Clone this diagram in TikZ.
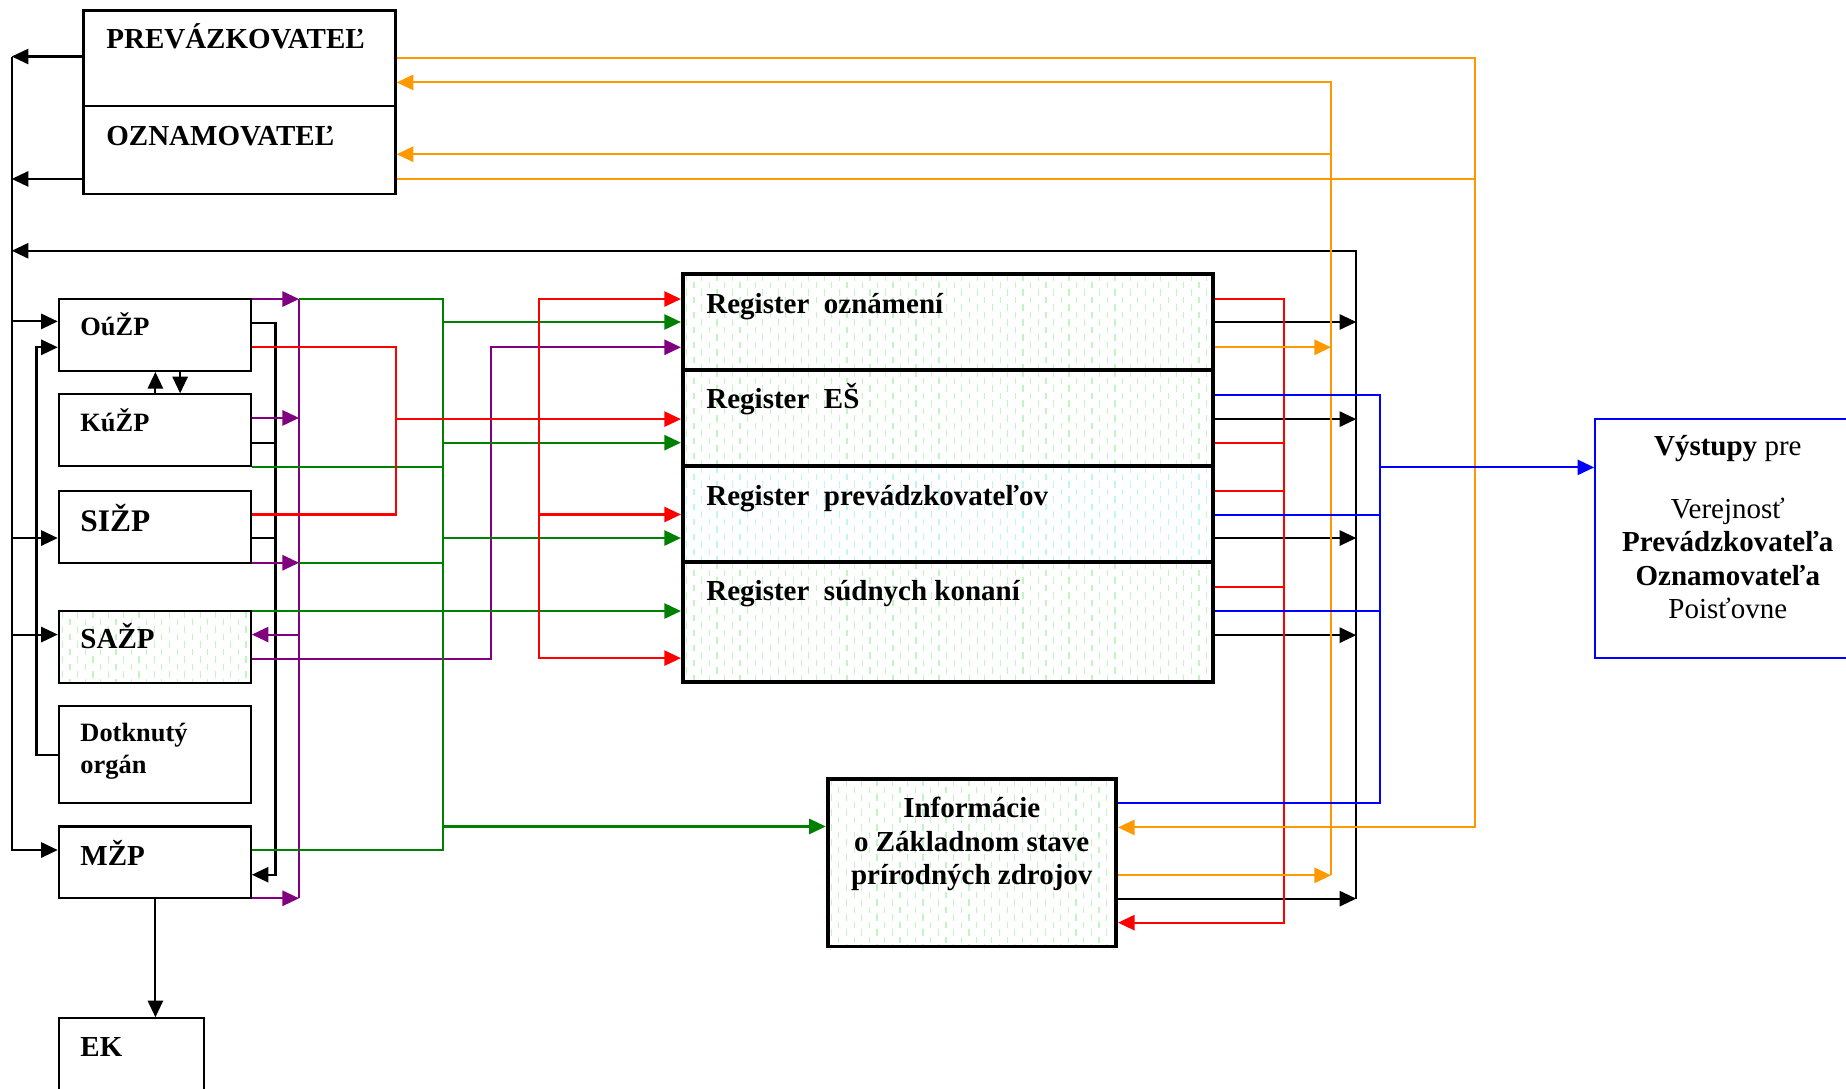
\documentclass[tikz,border=0pt]{standalone}
\usepackage{fontspec}
\setmainfont{Liberation Serif}
\usetikzlibrary{arrows.meta,calc,fit}
\definecolor{cOr}{RGB}{255,153,0}
\definecolor{cRed}{RGB}{255,0,0}
\definecolor{cGreen}{RGB}{0,128,0}
\definecolor{cPurp}{RGB}{128,0,128}
\definecolor{cBlue}{RGB}{0,0,255}
\definecolor{hatchG}{RGB}{195,245,195}
\definecolor{hatchC}{RGB}{190,245,245}
\newcommand{\myhatch}[5]{%
  \begin{scope}
    \clip (#1,#2) rectangle (#3,#4);
    \pgfmathtruncatemacro{\hn}{(#3-#1)/6.5}
    \foreach \k in {0,...,\hn}{
      \pgfmathsetmacro{\hx}{#1+3+6.5*\k}
      \pgfmathsetmacro{\hph}{mod(\k,2)*3.75}
      \draw[#5, line width=0.6pt, dash pattern=on 3.3pt off 4.2pt, dash phase=\hph pt] (\hx,#2) -- (\hx,#4);
    }
  \end{scope}}
\begin{document}
\begin{tikzpicture}[x=0.58865pt,y=-0.58865pt,
  box/.style={draw, line width=1.1pt, inner sep=0pt},
  tbox/.style={draw, line width=1.9pt, inner sep=0pt},
  con/.style={line width=1.05pt},
  >={Triangle[length=8.3pt,width=7.6pt]},
  lbl/.style={inner sep=0pt, anchor=base west, font=\fontsize{14.5}{16.7}\selectfont\bfseries},
  clbl/.style={inner sep=0pt, anchor=base, font=\fontsize{14.5}{16.7}\selectfont\bfseries},
  rlbl/.style={inner sep=0pt, anchor=base, font=\fontsize{14.5}{16.7}\selectfont},
]
\useasboundingbox (0,0) rectangle (1568,925);
\clip (0,0) rectangle (1568,925);

% hatching
\myhatch{580}{233}{1030}{314.5}{hatchG}
\myhatch{580}{314.5}{1030}{396}{hatchG}
\myhatch{580}{396}{1030}{477.5}{hatchC}
\myhatch{580}{477.5}{1030}{579}{hatchG}
\myhatch{703}{662}{948}{804}{hatchG}
\myhatch{50}{519}{213}{580}{hatchG}

% boxes
\node[box, fit={(71,9) (336,90)}] (prev) {};
\node[box, fit={(71,90) (336,165)}] (ozn) {};
\node[box, fit={(50,254) (213,315)}] (ouzp) {};
\node[box, fit={(50,335) (213,396)}] (kuzp) {};
\node[box, fit={(50,417) (213,478)}] (sizp) {};
\node[box, fit={(50,519) (213,580)}] (sazp) {};
\node[box, fit={(50,600) (213,682)}] (dot) {};
\node[box, fit={(50,702) (213,763)}] (mzp) {};
\node[box, fit={(50,865) (173,960)}] (ek) {};
\node[tbox, fit={(580,233) (1030,314.5)}] (reg1) {};
\node[tbox, fit={(580,314.5) (1030,396)}] (reg2) {};
\node[tbox, fit={(580,396) (1030,477.5)}] (reg3) {};
\node[tbox, fit={(580,477.5) (1030,579)}] (reg4) {};
\node[tbox, fit={(703,662) (948,804)}] (info) {};
\node[box, draw=cBlue, fit={(1355,356) (1620,559)}] (vyst) {};

% texts
\node[lbl] (tprev) at (90,41) {PREVÁZKOVATEĽ};
\node[lbl] (tozn) at (90,124) {OZNAMOVATEĽ};
\node[lbl, font=\fontsize{13.2}{16}\selectfont\bfseries] (touzp) at (68,284.6) {OúŽP};
\node[lbl, font=\fontsize{13.2}{16}\selectfont\bfseries] (tkuzp) at (68,366.7) {KúŽP};
\node[lbl, font=\fontsize{15.7}{18}\selectfont\bfseries] (tsizp) at (68,451.6) {SIŽP};
\node[lbl] (tsazp) at (68,550.7) {SAŽP};
\node[lbl, font=\fontsize{13.2}{16}\selectfont\bfseries] (tdot1) at (68,630) {Dotknutý};
\node[lbl, font=\fontsize{13.2}{16}\selectfont\bfseries] (tdot2) at (68,656.8) {orgán};
\node[lbl] (tmzp) at (68,735.3) {MŽP};
\node[lbl] (tek) at (68,897.5) {EK};
\node[lbl] (treg1) at (599.7,266.1) {Register\ \ oznámení};
\node[lbl] (treg2) at (599.7,346.8) {Register\ \ EŠ};
\node[lbl] (treg3) at (599.7,429) {Register\ \ prevádzkovateľov};
\node[lbl] (treg4) at (599.7,510) {Register\ \ súdnych konaní};
\node[clbl] (tinfo1) at (825.4,694.5) {Informácie};
\node[clbl] (tinfo2) at (825.4,722.9) {o Základnom stave};
\node[clbl] (tinfo3) at (825.4,751.2) {prírodných zdrojov};
\node[rlbl] (tv1) at (1467.6,386.5) {\textbf{Výstupy} pre};
\node[rlbl] (tv2) at (1467.6,440) {Verejnosť};
\node[clbl] (tv3) at (1467.6,468.6) {Prevádzkovateľa};
\node[clbl] (tv4) at (1467.6,496.9) {Oznamovateľa};
\node[rlbl] (tv5) at (1467.6,525) {Poisťovne};

% ---------- black connectors ----------
\draw[con,->] (prev.west |- 0,48) -- (10,48);
\draw[con,->] (ozn.west |- 0,152) -- (10,152);
\draw[con,->] (10,48) -- (10,722) -- (mzp.west |- 0,722);
\draw[con,->] (10,273) -- (ouzp.west |- 0,273);
\draw[con,->] (10,457) -- (sizp.west |- 0,457);
\draw[con,->] (10,539) -- (sazp.west |- 0,539);
\draw[con,->] (dot.west |- 0,641) -- (31,641) -- (31,295) -- (ouzp.west |- 0,295);
\draw[con,->] (kuzp.north -| 132,0) -- (ouzp.south -| 132,0);
\draw[con,->] (ouzp.south -| 153,0) -- (kuzp.north -| 153,0);
\draw[con,->] (ouzp.east |- 0,274) -- (234,274) -- (234,743) -- (mzp.east |- 0,743);
\draw[con] (kuzp.east |- 0,376) -- (234,376);
\draw[con] (sizp.east |- 0,457) -- (234,457);
\draw[con,->] (mzp.south -| 132,0) -- (ek.north -| 132,0);
\draw[con,->] (info.east |- 0,763.3) -- (1152,763.3);
\draw[con,->] (1152,763.3) -- (1152,213) -- (10,213);
\draw[con,->] (reg1.east |- 0,273.5) -- (1152,273.5);
\draw[con,->] (reg2.east |- 0,356) -- (1152,356);
\draw[con,->] (reg3.east |- 0,457) -- (1152,457);
\draw[con,->] (reg4.east |- 0,539.5) -- (1152,539.5);

% ---------- purple ----------
\draw[con,cPurp,->] (ouzp.east |- 0,254) -- (254,254);
\draw[con,cPurp] (254,254) -- (254,763);
\draw[con,cPurp,->] (kuzp.east |- 0,355) -- (254,355);
\draw[con,cPurp,->] (sizp.east |- 0,478) -- (254,478);
\draw[con,cPurp,->] (mzp.east |- 0,763) -- (254,763);
\draw[con,cPurp,->] (254,539) -- (sazp.east |- 0,539);
\draw[con,cPurp,->] (sazp.east |- 0,560) -- (417,560) -- (417,295) -- (reg1.west |- 0,295);

% ---------- green ----------
\draw[con,cGreen] (254,254) -- (376,254) -- (376,722) -- (mzp.east |- 0,722);
\draw[con,cGreen] (kuzp.east |- 0,396.5) -- (376,396.5);
\draw[con,cGreen] (254,478) -- (376,478);
\draw[con,cGreen,->] (sazp.east |- 0,519) -- (reg4.west |- 0,519);
\draw[con,cGreen,->] (376,273.5) -- (reg1.west |- 0,273.5);
\draw[con,cGreen,->] (376,376) -- (reg2.west |- 0,376);
\draw[con,cGreen,->] (376,457) -- (reg3.west |- 0,457);
\draw[con,cGreen,->] (376,702) -- (info.west |- 0,702);

% ---------- red ----------
\draw[con,cRed] (ouzp.east |- 0,295) -- (336,295) -- (336,437) -- (sizp.east |- 0,437);
\draw[con,cRed,->] (336,356) -- (reg2.west |- 0,356);
\draw[con,cRed,->] (458,437) -- (458,254) -- (reg1.west |- 0,254);
\draw[con,cRed,->] (458,437) -- (458,559) -- (reg4.west |- 0,559);
\draw[con,cRed,->] (458,437) -- (reg3.west |- 0,437);
\draw[con,cRed,->] (reg1.east |- 0,254) -- (1090.6,254) -- (1090.6,783.7) -- (info.east |- 0,783.7);
\draw[con,cRed] (reg2.east |- 0,376) -- (1090.6,376);
\draw[con,cRed] (reg3.east |- 0,417) -- (1090.6,417);
\draw[con,cRed] (reg4.east |- 0,498.6) -- (1090.6,498.6);

% ---------- orange ----------
\draw[con,cOr,->] (prev.east |- 0,49) -- (1253,49) -- (1253,702.8) -- (info.east |- 0,702.8);
\draw[con,cOr] (ozn.east |- 0,152) -- (1253,152);
\draw[con,cOr,->] (1130.6,743.5) -- (1130.6,70) -- (prev.east |- 0,70);
\draw[con,cOr,->] (1130.6,131) -- (ozn.east |- 0,131);
\draw[con,cOr,->] (reg1.east |- 0,295) -- (1130.6,295);
\draw[con,cOr,->] (info.east |- 0,743.5) -- (1130.6,743.5);

% ---------- blue ----------
\draw[con,cBlue] (reg2.east |- 0,335.5) -- (1172,335.5) -- (1172,681.8) -- (info.east |- 0,681.8);
\draw[con,cBlue] (reg3.east |- 0,437.5) -- (1172,437.5);
\draw[con,cBlue] (reg4.east |- 0,519) -- (1172,519);
\draw[con,cBlue,->] (1172,397) -- (vyst.west |- 0,397);
\end{tikzpicture}
\end{document}
